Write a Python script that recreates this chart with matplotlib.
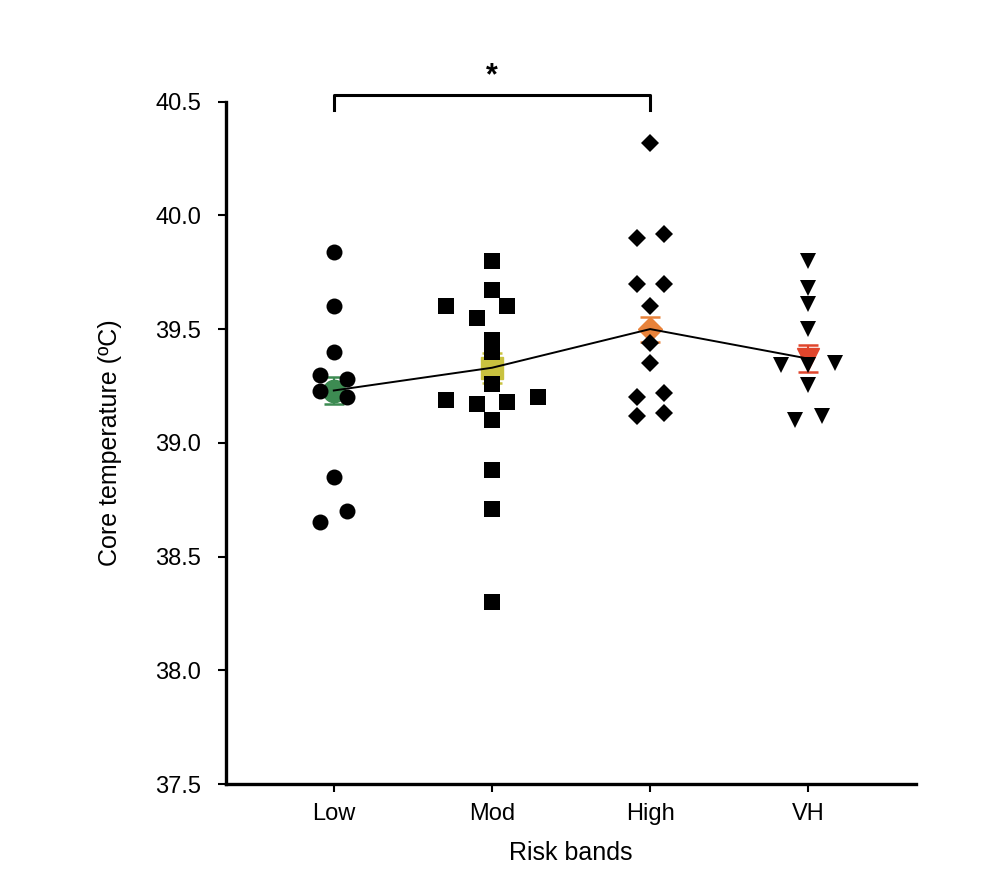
import matplotlib
matplotlib.use("Agg")
import matplotlib.pyplot as plt

plt.rcParams['font.family'] = ['Liberation Sans', 'DejaVu Sans']

bands = ["Low", "Mod", "High", "VH"]

low_vals = [39.84, 39.60, 39.40, 39.30, 39.28, 39.23, 39.20, 38.85, 38.70, 38.65]
mod_vals = [39.80, 39.67, 39.60, 39.60, 39.55, 39.45, 39.40, 39.26, 39.19, 39.17,
            39.18, 39.20, 39.10, 38.88, 38.71, 38.30]
high_vals = [40.32, 39.90, 39.92, 39.70, 39.70, 39.60, 39.44, 39.35, 39.20, 39.22,
             39.12, 39.13]
vh_vals = [39.80, 39.68, 39.61, 39.50, 39.34, 39.35, 39.34, 39.255, 39.10, 39.12]

means = [39.23, 39.33, 39.50, 39.37]
sems = [0.06, 0.065, 0.055, 0.06]

# horizontal spread of points within each band (scatter layout)
low_dx = [0, 0, 0, -0.085, 0.085, -0.085, 0.085, 0, 0.085, -0.085]
mod_dx = [0, 0, -0.29, 0.097, -0.097, 0, 0, 0, -0.29, -0.097, 0.097, 0.29, 0, 0, 0, 0]
high_dx = [0, -0.085, 0.085, -0.085, 0.085, 0, 0, 0, -0.085, 0.085, -0.085, 0.085]
vh_dx = [0, 0, 0, 0, -0.17, 0.17, 0, 0, -0.085, 0.085]

groups = [low_vals, mod_vals, high_vals, vh_vals]
offsets = [low_dx, mod_dx, high_dx, vh_dx]
markers = ["o", "s", "D", "v"]
sizes = [11.5, 11.5, 9.0, 11.5]
mean_colors = ["#3d8b52", "#c9c23f", "#e8823a", "#e0452c"]

fig = plt.figure(figsize=(9.88, 8.76), dpi=100)
ax = fig.add_axes([0.229, 0.105, 0.698, 0.779])

xs = [1, 2, 3, 4]
for i in range(4):
    ax.errorbar(xs[i], means[i], yerr=sems[i], fmt=markers[i], color=mean_colors[i],
                markersize=sizes[i] * 1.4, capsize=7, elinewidth=1.5, capthick=1.8,
                zorder=2)
ax.plot(xs, means, color="black", lw=1.4, zorder=3)
for i in range(4):
    px = [xs[i] + d for d in offsets[i]]
    ax.plot(px, groups[i], linestyle="none", marker=markers[i], color="black",
            markersize=sizes[i], markeredgewidth=0, zorder=4)

# significance bracket Low vs High
ax.plot([1, 1, 3, 3], [40.465, 40.53, 40.53, 40.465], color="black", lw=2.2,
        clip_on=False)
ax.text(2, 40.545, "*", ha="center", va="bottom", fontsize=22, fontweight="bold",
        clip_on=False)

ax.set_xlim(0.32, 4.68)
ax.set_ylim(37.5, 40.5)
ax.set_yticks([37.5, 38.0, 38.5, 39.0, 39.5, 40.0, 40.5])
ax.set_yticklabels(["37.5", "38.0", "38.5", "39.0", "39.5", "40.0", "40.5"])
ax.set_xticks(xs)
ax.set_xticklabels(bands)
ax.tick_params(axis="both", labelsize=17, width=1.5, length=6, direction="out")
ax.tick_params(axis="x", pad=8)
ax.tick_params(axis="y", pad=12)

for s in ["top", "right"]:
    ax.spines[s].set_visible(False)
for s in ["left", "bottom"]:
    ax.spines[s].set_linewidth(2.4)

ax.set_xlabel("Risk bands", fontsize=18, labelpad=11)
ax.set_ylabel("Core temperature (ºC)", fontsize=18, labelpad=24)

fig.savefig("out.png", dpi=100)
